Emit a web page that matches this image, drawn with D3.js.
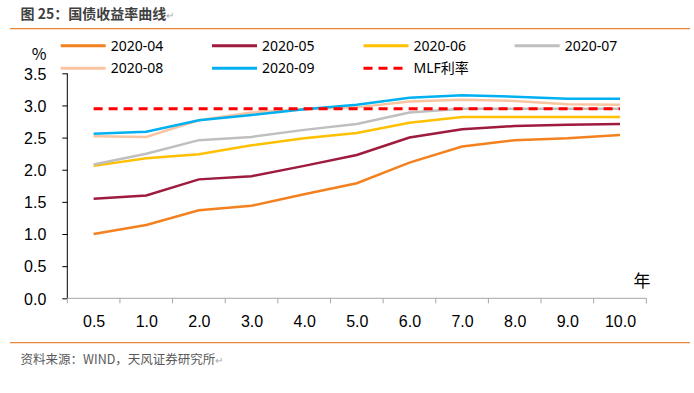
<!DOCTYPE html>
<html>
  <head>
    <meta charset="utf-8">
    <script src="https://d3js.org/d3.v7.min.js"></script>
    <style>
      body {
        margin: 0px;
        background: #fff;
      }
      .tick text {
        fill: #000;
        font-size: 16px;
        font-family: "Liberation Sans", Arial, sans-serif;
      }
      .legend-text {
        fill: #000;
        font-size: 14px;
        font-family: "Noto Sans", "Noto Sans CJK SC", sans-serif;
      }
    </style>
  </head>
  <body>
    <svg width="694" height="393"></svg>
    <script>

      // tenors (years)
      const tenors = ['0.5', '1.0', '2.0', '3.0', '4.0', '5.0', '6.0', '7.0', '8.0', '9.0', '10.0'];
      const yTicks = [0, 0.5, 1, 1.5, 2, 2.5, 3, 3.5];

      const seriesNames = ['2020-04', '2020-05', '2020-06', '2020-07', '2020-08', '2020-09', 'MLF利率'];
      const v202004 = [1.00, 1.14, 1.37, 1.44, 1.62, 1.79, 2.11, 2.36, 2.46, 2.49, 2.54];
      const v202005 = [1.55, 1.60, 1.85, 1.90, 2.06, 2.23, 2.50, 2.63, 2.68, 2.70, 2.71];
      const v202006 = [2.06, 2.18, 2.24, 2.38, 2.49, 2.57, 2.73, 2.82, 2.82, 2.82, 2.82];
      const v202007 = [2.08, 2.25, 2.46, 2.51, 2.62, 2.71, 2.89, 2.95, 2.95, 2.95, 2.95];
      const v202008 = [2.52, 2.51, 2.77, 2.89, 2.94, 2.97, 3.06, 3.09, 3.07, 3.02, 3.01];
      const v202009 = [2.56, 2.59, 2.77, 2.85, 2.94, 3.01, 3.12, 3.16, 3.135, 3.105, 3.105];
      const vMLF    = [2.95, 2.95, 2.95, 2.95, 2.95, 2.95, 2.95, 2.95, 2.95, 2.95, 2.95];

      const colors = ['#F4811F', '#9E1B3D', '#FFC000', '#BFBFBF', '#F9C4A0', '#00B0F0', '#FF0000'];

      const seriesValues = [v202004, v202005, v202006, v202007, v202008, v202009, vMLF];

      const svg = d3.select('svg');

      const plotLeft = 67.3, plotRight = 646.3, plotTop = 73.3, plotBottom = 298.3;

      const xBand = d3.scaleBand().domain(tenors).range([plotLeft, plotRight]);
      const xScale = d3.scalePoint().domain(tenors).range([plotLeft, plotRight]).padding(0.5);
      const yScale = d3.scaleLinear().domain([0, 3.5]).range([plotBottom, plotTop]);

      // header / footer
      svg.append('line')
          .attr('x1', 10).attr('x2', 690).attr('y1', 28.7).attr('y2', 28.7)
          .attr('stroke', '#E8873A').attr('stroke-width', 1.2);
      svg.append('line')
          .attr('x1', 10).attr('x2', 690).attr('y1', 342.7).attr('y2', 342.7)
          .attr('stroke', '#E8873A').attr('stroke-width', 1.2);

      const title = svg.append('text')
          .attr('x', 20.5).attr('y', 19)
          .style('font-family', '"Noto Sans CJK SC", sans-serif')
          .style('font-size', '14px')
          .style('font-weight', 'bold')
          .attr('fill', '#404040');
      title.append('tspan').text('图 25：国债收益率曲线');
      title.append('tspan').text('↵').attr('fill', '#aaa').style('font-weight', 'normal').style('font-size', '10px');

      const source = svg.append('text')
          .attr('x', 20.5).attr('y', 363.5)
          .style('font-family', '"Noto Sans CJK SC", sans-serif')
          .style('font-size', '12.5px')
          .attr('fill', '#595959');
      source.append('tspan').text('资料来源：WIND，天风证券研究所');
      source.append('tspan').text('↵').attr('fill', '#aaa').style('font-size', '10px');

      // axes
      const yAxis = d3.axisLeft(yScale)
          .tickValues(yTicks)
          .tickFormat(d3.format('.1f'))
          .tickSize(5)
          .tickPadding(16);
      const yAxisG = svg.append('g')
          .attr('transform', `translate(${plotLeft},0)`)
          .call(yAxis);
      yAxisG.select('.domain').attr('stroke', '#000').attr('d', `M0,${plotTop}V${plotBottom}`);
      yAxisG.selectAll('.tick line').attr('stroke', '#000');
      yAxisG.selectAll('.tick text').attr('dy', '0.36em');

      const xAxis = d3.axisBottom(xScale).tickSize(0).tickPadding(14);
      const xAxisG = svg.append('g')
          .attr('transform', `translate(0,${plotBottom})`)
          .call(xAxis);
      xAxisG.select('.domain').attr('stroke', '#A6A6A6').attr('d', `M${plotLeft},0H${plotRight}`);
      xAxisG.selectAll('.tick text').attr('dy', '0.9em');

      // boundary tick marks between categories
      xAxisG.selectAll('.sep')
          .data(tenors.concat(['end']))
          .enter()
          .append('line')
            .attr('class', 'sep')
            .attr('x1', (d, i) => i < tenors.length ? xBand(d) : xBand.range()[1])
            .attr('x2', (d, i) => i < tenors.length ? xBand(d) : xBand.range()[1])
            .attr('y1', 0).attr('y2', 5)
            .attr('stroke', '#A6A6A6');

      svg.append('text')
          .attr('x', 39).attr('y', 60)
          .attr('text-anchor', 'middle')
          .style('font-family', '"Noto Sans CJK SC", sans-serif')
          .style('font-size', '16px')
          .text('%');

      svg.append('text')
          .attr('x', 642).attr('y', 287)
          .attr('text-anchor', 'middle')
          .style('font-family', '"Noto Sans CJK SC", sans-serif')
          .style('font-size', '17px')
          .text('年');

      // lines
      const line = d3.line()
          .x((d, i) => xScale(tenors[i]))
          .y(d => yScale(d));

      seriesValues.forEach((vals, k) => {
        svg.append('path')
            .datum(vals)
            .attr('fill', 'none')
            .attr('stroke', colors[k])
            .attr('stroke-width', k === 6 ? 3 : 2.5)
            .attr('stroke-dasharray', k === 6 ? '9,6' : null)
            .attr('d', line);
      });

      // legend
      const legendX = [60.7, 212, 363.5, 514.7];
      const legendY = [45.7, 68.3];
      seriesNames.forEach((name, k) => {
        const lx = legendX[k % 4], ly = legendY[Math.floor(k / 4)];
        svg.append('line')
            .attr('x1', lx).attr('x2', lx + 45)
            .attr('y1', ly).attr('y2', ly)
            .attr('stroke', colors[k])
            .attr('stroke-width', 3)
            .attr('stroke-dasharray', k === 6 ? '9,6' : null);
        svg.append('text')
            .attr('class', 'legend-text')
            .attr('x', lx + 50).attr('y', ly)
            .attr('dy', '0.35em')
            .text(name);
      });
    </script>
  </body>
</html>
